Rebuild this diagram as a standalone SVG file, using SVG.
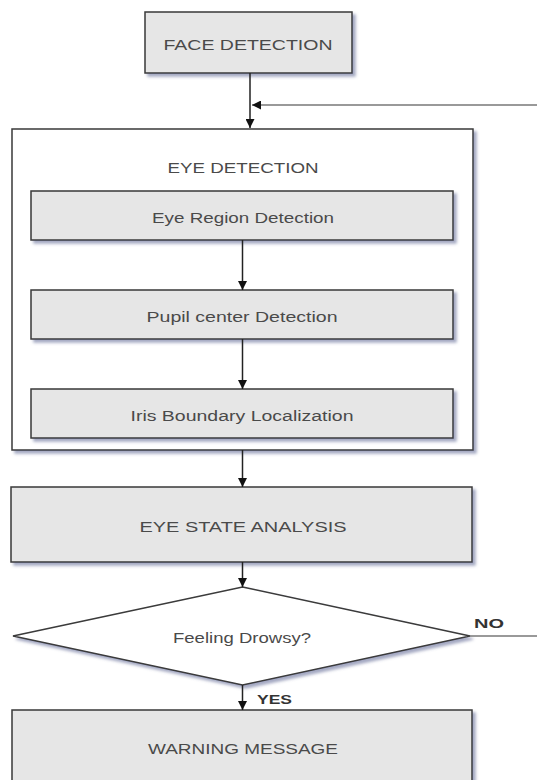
<svg xmlns="http://www.w3.org/2000/svg" width="537" height="780" viewBox="0 0 537 780">
<defs>
<filter id="sh" x="-10%" y="-10%" width="120%" height="130%">
<feDropShadow dx="3" dy="3" stdDeviation="1.6" flood-color="#5a6290" flood-opacity="0.55"/>
</filter>
<marker id="ah" viewBox="0 0 10 10" refX="10" refY="5" markerWidth="9" markerHeight="9" markerUnits="userSpaceOnUse" orient="auto">
<path d="M0,0 L10,5 L0,10 z" fill="#111"/>
</marker>
</defs>
<style>
.box{fill:#e6e6e6;stroke:#3a3a3a;stroke-width:1.5}
.wbox{fill:#ffffff;stroke:#3a3a3a;stroke-width:1.5}
.t{font-family:"Liberation Sans","DejaVu Sans",sans-serif;font-size:14px;fill:#4a4a4a;text-anchor:middle}
.b{font-family:"Liberation Sans","DejaVu Sans",sans-serif;font-size:13px;font-weight:bold;fill:#333}
.c{fill:none;stroke:#222;stroke-width:1.5}
.g{fill:none;stroke:#777;stroke-width:1.5}
</style>
<g id="face-detection">
<rect class="box" x="145" y="12" width="207" height="61" filter="url(#sh)"/>
<text class="t" x="248" y="50" textLength="169" lengthAdjust="spacingAndGlyphs">FACE DETECTION</text>
</g>
<g id="eye-detection">
<rect class="wbox" x="12" y="129" width="461" height="321" filter="url(#sh)"/>
<text class="t" x="243" y="173" textLength="151" lengthAdjust="spacingAndGlyphs">EYE DETECTION</text>
</g>
<g id="eye-region">
<rect class="box" x="31" y="191" width="422" height="49" filter="url(#sh)"/>
<text class="t" x="243" y="223" textLength="182" lengthAdjust="spacingAndGlyphs">Eye Region Detection</text>
</g>
<g id="pupil-center">
<rect class="box" x="31" y="290" width="422" height="49" filter="url(#sh)"/>
<text class="t" x="242" y="322" textLength="191" lengthAdjust="spacingAndGlyphs">Pupil center Detection</text>
</g>
<g id="iris-boundary">
<rect class="box" x="31" y="389" width="422" height="49" filter="url(#sh)"/>
<text class="t" x="242" y="421" textLength="223" lengthAdjust="spacingAndGlyphs">Iris Boundary Localization</text>
</g>
<g id="eye-state">
<rect class="box" x="11" y="487" width="461" height="75" filter="url(#sh)"/>
<text class="t" x="243" y="532" textLength="207" lengthAdjust="spacingAndGlyphs">EYE STATE ANALYSIS</text>
</g>
<g id="feeling-drowsy">
<polygon class="wbox" points="242.5,587 470,636 242.5,685 13,636" filter="url(#sh)"/>
<text class="t" x="242" y="643" textLength="138" lengthAdjust="spacingAndGlyphs">Feeling Drowsy?</text>
</g>
<g id="warning">
<rect class="box" x="12" y="710" width="460" height="80" filter="url(#sh)"/>
<text class="t" x="243" y="754" textLength="190" lengthAdjust="spacingAndGlyphs">WARNING MESSAGE</text>
</g>
<g id="connectors">
<line class="c" x1="250" y1="73" x2="250" y2="128" marker-end="url(#ah)"/>
<line class="g" x1="537" y1="105" x2="252" y2="105" marker-end="url(#ah)"/>
<line class="c" x1="242.5" y1="240" x2="242.5" y2="290" marker-end="url(#ah)"/>
<line class="c" x1="242.5" y1="339" x2="242.5" y2="389" marker-end="url(#ah)"/>
<line class="c" x1="242.5" y1="450" x2="242.5" y2="487" marker-end="url(#ah)"/>
<line class="c" x1="242.5" y1="562" x2="242.5" y2="587" marker-end="url(#ah)"/>
<line class="c" x1="242.5" y1="685" x2="242.5" y2="710" marker-end="url(#ah)"/>
<line class="g" x1="470" y1="636" x2="537" y2="636"/>
<text class="b" x="474" y="628" textLength="30" lengthAdjust="spacingAndGlyphs">NO</text>
<text class="b" x="257" y="704" textLength="35" lengthAdjust="spacingAndGlyphs">YES</text>
</g>
</svg>
